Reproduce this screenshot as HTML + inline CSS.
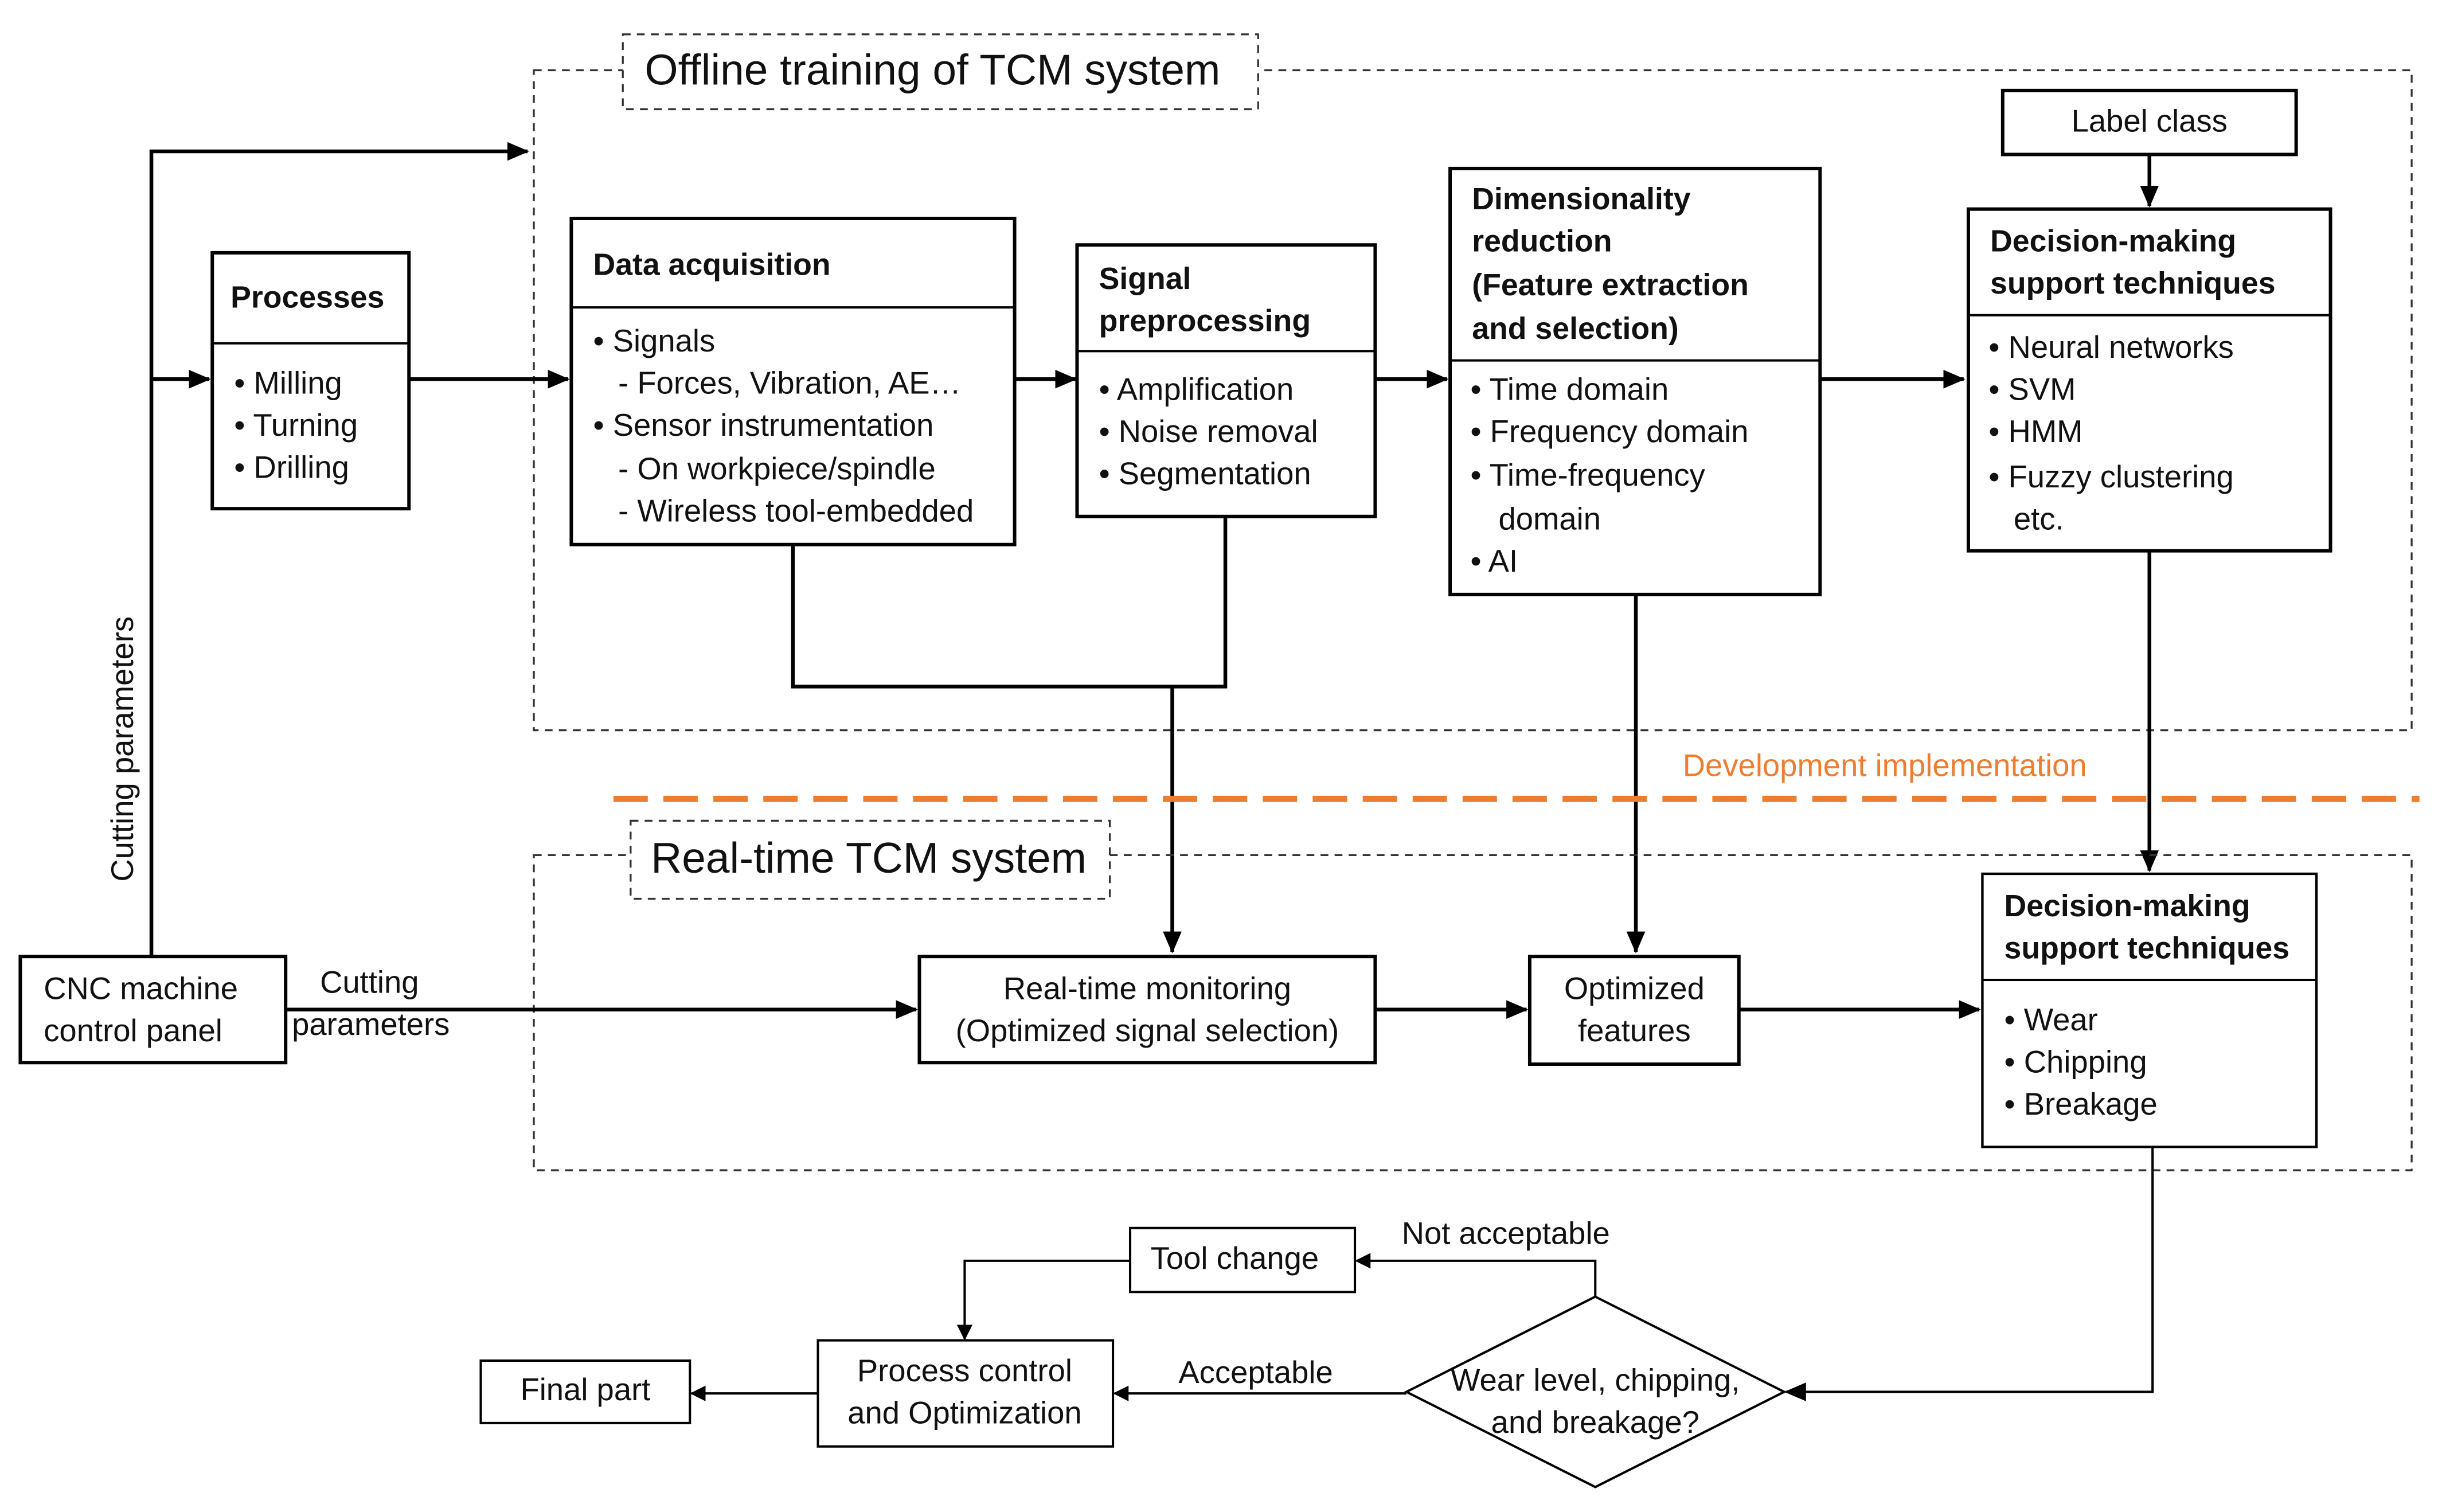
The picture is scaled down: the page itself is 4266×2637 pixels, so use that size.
<!DOCTYPE html>
<html><head><meta charset="utf-8"><style>
html,body{margin:0;padding:0;background:#fff;}
svg{display:block;}
text{font-family:"Liberation Sans",sans-serif;font-size:20px;fill:#111;dominant-baseline:middle;}
.b{font-weight:bold;font-size:19.7px;}
.t{font-size:27.5px;}
.bx{fill:#fff;stroke:#000;stroke-width:2.2;}
.ln{fill:none;stroke:#000;stroke-width:2.4;}
.th{fill:none;stroke:#000;stroke-width:1.5;}
.ds{fill:none;stroke:#333;stroke-width:1.2;stroke-dasharray:5,4;}
.dw{fill:#fff;stroke:#333;stroke-width:1.2;stroke-dasharray:5,4;}
.tw{fill:#fff;stroke:#000;stroke-width:1.5;}
</style></head><body>
<svg width="4266" height="2637" viewBox="0 0 1567 969" preserveAspectRatio="none" xmlns="http://www.w3.org/2000/svg">
<defs>
<marker id="a" markerWidth="10" markerHeight="10" refX="9" refY="5" orient="auto" markerUnits="userSpaceOnUse" viewBox="0 0 10 10"><path d="M0,0 L10,5 L0,10 z" fill="#000"/></marker>
<marker id="s" markerWidth="14" markerHeight="14" refX="13" refY="7" orient="auto" markerUnits="userSpaceOnUse" viewBox="0 0 14 14"><path d="M0,1 L14,7 L0,13 z" fill="#000"/></marker>
</defs>

<rect x="342" y="45" width="1203" height="423" class="ds"/>
<rect x="399" y="22" width="407" height="48" class="dw"/>
<text x="413" y="47" class="t">Offline training of TCM system</text>

<polyline points="97,612 97,97 338,97" class="ln" marker-end="url(#s)"/>
<line x1="97" y1="243" x2="134" y2="243" class="ln" marker-end="url(#s)"/>
<text transform="translate(80,480) rotate(-90)" text-anchor="middle">Cutting parameters</text>

<rect x="136" y="162" width="126" height="164" class="bx"/>
<line x1="136" y1="220" x2="262" y2="220" class="th"/>
<text x="197" y="192" class="b" text-anchor="middle">Processes</text>
<text x="150" y="247">•  Milling</text>
<text x="150" y="274">•  Turning</text>
<text x="150" y="301">•  Drilling</text>
<line x1="262" y1="243" x2="364" y2="243" class="ln" marker-end="url(#s)"/>

<rect x="366" y="140" width="284" height="209" class="bx"/>
<line x1="366" y1="197" x2="650" y2="197" class="th"/>
<text x="380" y="171" class="b">Data acquisition</text>
<text x="380" y="220">•  Signals</text>
<text x="396" y="247">- Forces, Vibration, AE…</text>
<text x="380" y="274">•   Sensor instrumentation</text>
<text x="396" y="302">- On workpiece/spindle</text>
<text x="396" y="329">- Wireless tool-embedded</text>
<line x1="650" y1="243" x2="689" y2="243" class="ln" marker-end="url(#s)"/>

<rect x="690" y="157" width="191" height="174" class="bx"/>
<line x1="690" y1="225" x2="881" y2="225" class="th"/>
<text x="704" y="180" class="b">Signal</text>
<text x="704" y="207" class="b">preprocessing</text>
<text x="704" y="251">•  Amplification</text>
<text x="704" y="278">•  Noise removal</text>
<text x="704" y="305">•  Segmentation</text>
<line x1="881" y1="243" x2="927" y2="243" class="ln" marker-end="url(#s)"/>

<rect x="929" y="108" width="237" height="273" class="bx"/>
<line x1="929" y1="231" x2="1166" y2="231" class="th"/>
<text x="943" y="129" class="b">Dimensionality</text>
<text x="943" y="156" class="b">reduction</text>
<text x="943" y="184" class="b">(Feature extraction</text>
<text x="943" y="212" class="b">and selection)</text>
<text x="942" y="251">•  Time domain</text>
<text x="942" y="278">•  Frequency domain</text>
<text x="942" y="306">•  Time-frequency</text>
<text x="960" y="334">domain</text>
<text x="942" y="361">•  AI</text>
<line x1="1166" y1="243" x2="1258" y2="243" class="ln" marker-end="url(#s)"/>

<rect x="1283" y="58" width="188" height="41" class="bx"/>
<text x="1377" y="79" text-anchor="middle">Label class</text>
<line x1="1377" y1="99" x2="1377" y2="132" class="ln" marker-end="url(#s)"/>

<rect x="1261" y="134" width="232" height="219" class="bx"/>
<line x1="1261" y1="202" x2="1493" y2="202" class="th"/>
<text x="1275" y="156" class="b">Decision-making</text>
<text x="1275" y="183" class="b">support techniques</text>
<text x="1274" y="224">•  Neural networks</text>
<text x="1274" y="251">•  SVM</text>
<text x="1274" y="278">•  HMM</text>
<text x="1274" y="307">•  Fuzzy clustering</text>
<text x="1290" y="334">etc.</text>

<polyline points="508,349 508,440 785,440 785,331" class="ln"/>
<line x1="751" y1="440" x2="751" y2="610" class="ln" marker-end="url(#s)"/>
<line x1="1048" y1="381" x2="1048" y2="610" class="ln" marker-end="url(#s)"/>
<line x1="1377" y1="353" x2="1377" y2="558" class="ln" marker-end="url(#s)"/>

<line x1="393" y1="512" x2="1550" y2="512" stroke="#ED7D31" stroke-width="4" stroke-dasharray="22,10"/>
<text x="1078" y="492" style="fill:#ED7D31">Development implementation</text>

<rect x="342" y="548" width="1203" height="202" class="ds"/>
<rect x="404" y="526" width="307" height="50" class="dw"/>
<text x="417" y="552" class="t">Real-time TCM system</text>

<rect x="13" y="613" width="170" height="68" class="bx"/>
<text x="28" y="635">CNC machine</text>
<text x="28" y="662">control panel</text>
<text x="205" y="631">Cutting</text>
<text x="187" y="658">parameters</text>
<line x1="183" y1="647" x2="587" y2="647" class="ln" marker-end="url(#s)"/>

<rect x="589" y="613" width="292" height="68" class="bx"/>
<text x="735" y="635" text-anchor="middle">Real-time monitoring</text>
<text x="735" y="662" text-anchor="middle">(Optimized signal selection)</text>
<line x1="881" y1="647" x2="978" y2="647" class="ln" marker-end="url(#s)"/>

<rect x="980" y="613" width="134" height="69" class="bx"/>
<text x="1047" y="635" text-anchor="middle">Optimized</text>
<text x="1047" y="662" text-anchor="middle">features</text>
<line x1="1114" y1="647" x2="1268" y2="647" class="ln" marker-end="url(#s)"/>

<rect x="1270" y="560" width="214" height="175" class="bx" style="stroke-width:1.6"/>
<line x1="1270" y1="628" x2="1484" y2="628" class="th"/>
<text x="1284" y="582" class="b">Decision-making</text>
<text x="1284" y="609" class="b">support techniques</text>
<text x="1284" y="655">•  Wear</text>
<text x="1284" y="682">•  Chipping</text>
<text x="1284" y="709">•  Breakage</text>

<polyline points="1379,735 1379,892 1144,892" class="th" marker-end="url(#s)"/>
<polygon points="1022,831 1143,892 1022,953 901,892" class="tw"/>
<text x="1022" y="886" text-anchor="middle">Wear level,  chipping,</text>
<text x="1022" y="913" text-anchor="middle">and breakage?</text>

<polyline points="1022,831 1022,808 869,808" class="th" marker-end="url(#a)"/>
<text x="898" y="792">Not acceptable</text>
<rect x="724" y="787" width="144" height="41" class="tw"/>
<text x="791" y="808" text-anchor="middle">Tool change</text>
<polyline points="724,808 618,808 618,858" class="th" marker-end="url(#a)"/>

<rect x="524" y="859" width="189" height="68" class="tw"/>
<text x="618" y="880" text-anchor="middle">Process control</text>
<text x="618" y="907" text-anchor="middle">and Optimization</text>
<line x1="901" y1="893" x2="714" y2="893" class="th" marker-end="url(#a)"/>
<text x="755" y="881">Acceptable</text>

<line x1="524" y1="893" x2="443" y2="893" class="th" marker-end="url(#a)"/>
<rect x="308" y="872" width="134" height="40" class="tw"/>
<text x="375" y="892" text-anchor="middle">Final part</text>
</svg>
</body></html>
